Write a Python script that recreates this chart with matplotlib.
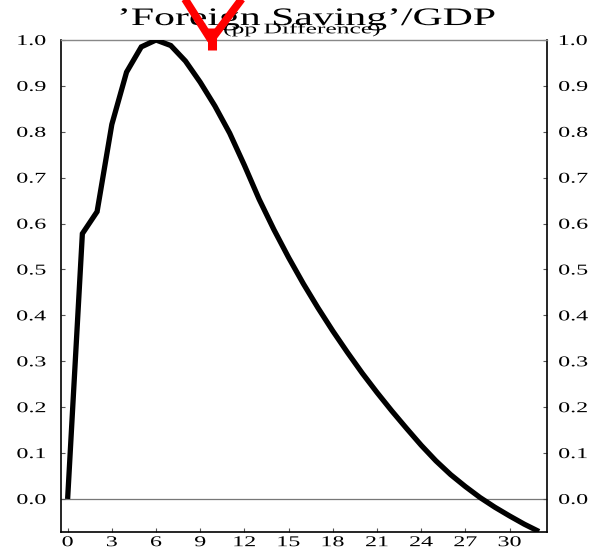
import matplotlib
matplotlib.use("Agg")
import matplotlib.pyplot as plt
from matplotlib.lines import Line2D
from matplotlib.patheffects import AbstractPathEffect
from matplotlib.transforms import Affine2D

# Response of foreign saving to GDP, percentage-point difference by period
periods = list(range(0, 33))
saving_gdp = [0.000, 0.578, 0.626, 0.816, 0.930, 0.985, 1.000, 0.988, 0.954,
              0.908, 0.856, 0.797, 0.727, 0.653, 0.587, 0.526, 0.469, 0.416,
              0.366, 0.319, 0.274, 0.232, 0.192, 0.154, 0.117, 0.083, 0.053,
              0.027, 0.003, -0.018, -0.037, -0.055, -0.071]
x_ticks = list(range(0, 31, 3))
y_ticks = [0.0, 0.1, 0.2, 0.3, 0.4, 0.5, 0.6, 0.7, 0.8, 0.9, 1.0]
title_text = "\u2019Foreign Saving\u2019/GDP"
subtitle_text = "(pp Difference)"

W, H, DPI = 594, 549, 100
SERIF = ["Liberation Serif", "DejaVu Serif"]


class Widen(AbstractPathEffect):
    """Draw text glyphs horizontally expanded about an anchor."""

    def __init__(self, sx, anchor="center", dx=0.0):
        super().__init__()
        self.sx = sx
        self.anchor = anchor
        self.dx = dx

    def draw_path(self, renderer, gc, tpath, affine, rgbFace=None):
        ext = tpath.get_extents()
        if self.anchor == "left":
            x0 = ext.x0
        elif self.anchor == "right":
            x0 = ext.x1
        else:
            x0 = 0.5 * (ext.x0 + ext.x1)
        stretch = Affine2D().translate(-x0, 0).scale(self.sx, 1.0).translate(x0, 0)
        shift = Affine2D().translate(self.dx, 0)
        renderer.draw_path(gc, tpath, stretch + affine + shift, rgbFace)


fig = plt.figure(figsize=(W / DPI, H / DPI), dpi=DPI)
ax = fig.add_axes([61 / W, 1 - 532 / H, (547 - 61) / W, (532 - 40) / H])

ax.axhline(0.0, color="#777777", lw=0.9, zorder=1)
ax.plot(periods, saving_gdp, color="black", lw=3.8,
        solid_joinstyle="miter", solid_capstyle="butt", zorder=3)

ax.set_xlim(-0.45, 32.54)
ax.set_ylim(-0.072, 1.0)
ax.set_xticks(x_ticks)
ax.set_yticks(y_ticks)
ax.set_xticklabels([str(v) for v in x_ticks])
ax.set_yticklabels([f"{v:.1f}" for v in y_ticks])

for side in ("left", "right", "bottom"):
    ax.spines[side].set_color("black")
    ax.spines[side].set_linewidth(1.2)
ax.spines["top"].set_color("#888888")
ax.spines["top"].set_linewidth(1.0)

ax.tick_params(axis="x", direction="in", length=3, width=0.8, color="#555555",
               pad=3, labelsize=10.8, top=False)
ax.tick_params(axis="y", direction="in", length=3, width=0.8, color="#555555",
               left=True, right=True, labelleft=True, labelright=True,
               labelsize=10.8, pad=10.8)

SX = 1.6
for lab in ax.get_xticklabels():
    lab.set_fontfamily(SERIF)
    lab.set_path_effects([Widen(SX, "center")])

for t in ax.yaxis.get_major_ticks():
    t.label1.set_fontfamily(SERIF)
    t.label1.set_path_effects([Widen(SX, "right")])
    t.label2.set_fontfamily(SERIF)
    t.label2.set_path_effects([Widen(SX, "left", dx=-3.5)])

fig.text(307 / W, 1 - 25 / H, title_text, ha="center", va="baseline",
         fontsize=18.1, family=SERIF, path_effects=[Widen(1.66, "center")])
fig.text(302 / W, 1 - 33.3 / H, subtitle_text, ha="center", va="baseline",
         fontsize=10.5, family=SERIF, path_effects=[Widen(1.75, "center")])

# red marker over the title
red = dict(color="#ff0000", lw=5.6, solid_capstyle="butt", zorder=10,
           transform=fig.transFigure)


def px(x, y):
    return x / W, 1 - y / H


(ax0, ay0), (ax1, ay1) = px(183, -4), px(211, 40)
fig.add_artist(Line2D([ax0, ax1], [ay0, ay1], **red))
(bx0, by0), (bx1, by1) = px(244, -4), px(211, 40)
fig.add_artist(Line2D([bx0, bx1], [by0, by1], **red))
(cx0, cy0), (cx1, cy1) = px(211.5, 28), px(211.5, 50)
fig.add_artist(Line2D([cx0, cx1], [cy0, cy1], **dict(red, lw=6.5)))

fig.savefig("out.png", dpi=DPI)
